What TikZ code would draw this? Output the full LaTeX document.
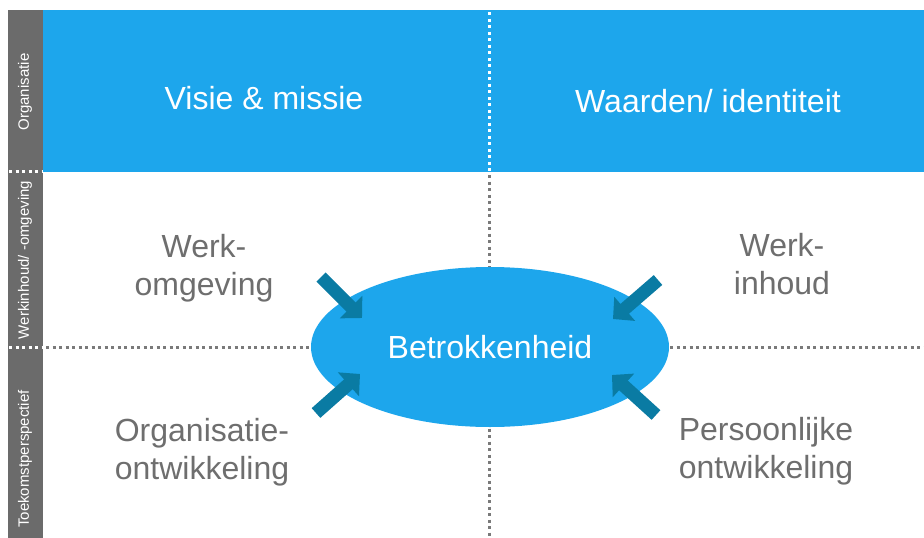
\documentclass[tikz,border=0pt]{standalone}
\usepackage{fontspec}
\setmainfont{Liberation Sans}
\usetikzlibrary{shapes.geometric,arrows.meta}
\definecolor{bandblue}{HTML}{1DA6EC}
\definecolor{bargrey}{HTML}{6B6B6B}
\definecolor{labelgrey}{HTML}{6E6E6E}
\definecolor{dotgrey}{HTML}{7A7A7A}
\definecolor{arrowteal}{HTML}{0A7BA3}
\begin{document}
\begin{tikzpicture}[x=1pt,y=-1pt,
  dots/.style={line width=3pt, dash pattern=on 3pt off 3.5pt},
  header/.style={font=\fontsize{32}{38}\selectfont, text=white, anchor=base},
  quad/.style={font=\fontsize{32}{38}\selectfont, text=labelgrey, align=center, anchor=base},
  sidelabel/.style={font=\fontsize{15}{17}\selectfont, text=white, rotate=90},
  pusharrow/.style={line width=13pt, arrowteal, -{Triangle[width=31pt,length=15.5pt]}}]
  \useasboundingbox (0,0) rectangle (924,538);

  % side bar and top band
  \fill[bargrey] (8,10) rectangle (43,538);
  \fill[bandblue] (43,10) rectangle (924,172);

  % quadrant dividers
  \draw[dots, white] (489,12) -- (489,172);
  \draw[dots, dotgrey] (489,175) -- (489,538);
  \draw[dots, dotgrey] (46,347) -- (924,347);
  \draw[dots, white] (9,347) -- (43,347);
  \draw[dots, white] (9,171) -- (43,171);

  % row labels
  \node[sidelabel] (rowa) at (25,92) {Organisatie};
  \node[sidelabel] (rowb) at (25,260) {Werkinhoud/ -omgeving};
  \node[sidelabel] (rowc) at (25,459) {Toekomstperspectief};

  % headers
  \node[header] (visie) at (264,109) {Visie \& missie};
  \node[header] (waarden) at (708,112) {Waarden/ identiteit};

  % quadrant labels (anchored on the baseline of the second line)
  \node[quad] (omgeving) at (204,295) {Werk-\\omgeving};
  \node[quad] (inhoud) at (782,294) {Werk-\\inhoud};
  \node[quad] (orgontw) at (202,479) {Organisatie-\\ontwikkeling};
  \node[quad] (persontw) at (766,478) {Persoonlijke\\ontwikkeling};

  % central ellipse
  \node[ellipse, fill=bandblue, minimum width=358pt, minimum height=160pt,
        inner sep=0pt, text=white, font=\fontsize{32}{38}\selectfont]
        (betr) at (490,347) {Betrokkenheid};

  % arrows pressing inward
  \coordinate (tlA) at (321,277);
  \coordinate (tlB) at (362,318);
  \coordinate (trA) at (658,280);
  \coordinate (trB) at (613,319);
  \coordinate (blA) at (316,413);
  \coordinate (blB) at (360,374);
  \coordinate (brA) at (656,415);
  \coordinate (brB) at (612,375);
  \draw[pusharrow] (tlA) -- (tlB);
  \draw[pusharrow] (trA) -- (trB);
  \draw[pusharrow] (blA) -- (blB);
  \draw[pusharrow] (brA) -- (brB);
\end{tikzpicture}
\end{document}
